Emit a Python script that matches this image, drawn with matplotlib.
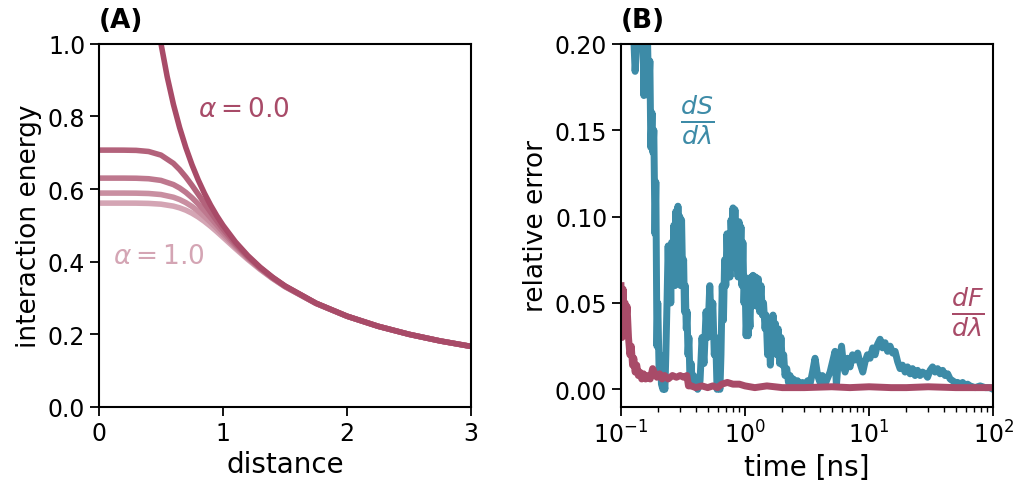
import numpy as np
import matplotlib
matplotlib.use("Agg")
import matplotlib.pyplot as plt

# ---- panel A data: interaction energy vs distance ----
dist = [0.0, 0.1, 0.2, 0.3, 0.4, 0.5, 0.6, 0.65, 0.7, 0.75, 0.8, 0.85, 0.9, 0.95,
        1.0, 1.1, 1.2, 1.3, 1.4, 1.5, 1.75, 2.0, 2.25, 2.5, 2.75, 3.0]
energy_a025 = [0.7071, 0.7071, 0.7070, 0.7064, 0.7033, 0.6934, 0.6707, 0.6536, 0.6331, 0.6101,
               0.5857, 0.5608, 0.5364, 0.5127, 0.4903, 0.4494, 0.4138, 0.3830, 0.3562, 0.3327,
               0.2855, 0.2499, 0.2222, 0.2000, 0.1818, 0.1667]
energy_a050 = [0.6300, 0.6300, 0.6300, 0.6297, 0.6283, 0.6237, 0.6123, 0.6029, 0.5908, 0.5760,
               0.5590, 0.5405, 0.5210, 0.5013, 0.4817, 0.4447, 0.4111, 0.3814, 0.3552, 0.3321,
               0.2853, 0.2498, 0.2222, 0.2000, 0.1818, 0.1667]
energy_a075 = [0.5888, 0.5888, 0.5888, 0.5886, 0.5877, 0.5848, 0.5774, 0.5711, 0.5626, 0.5519,
               0.5390, 0.5243, 0.5083, 0.4914, 0.4742, 0.4402, 0.4085, 0.3799, 0.3543, 0.3315,
               0.2851, 0.2498, 0.2222, 0.2000, 0.1818, 0.1667]
energy_a100 = [0.5612, 0.5612, 0.5612, 0.5611, 0.5604, 0.5583, 0.5529, 0.5482, 0.5418, 0.5334,
               0.5231, 0.5110, 0.4974, 0.4827, 0.4673, 0.4361, 0.4061, 0.3784, 0.3533, 0.3309,
               0.2849, 0.2497, 0.2222, 0.2000, 0.1818, 0.1667]
dist_a0 = [0.5, 0.55, 0.6, 0.65, 0.7, 0.75, 0.8, 0.85, 0.9, 0.95, 1.0, 1.1, 1.2, 1.3, 1.4,
           1.5, 1.75, 2.0, 2.25, 2.5, 2.75, 3.0]
energy_a000 = [1.0, 0.9091, 0.8333, 0.7692, 0.7143, 0.6667, 0.625, 0.5882, 0.5556, 0.5263,
               0.5, 0.4545, 0.4167, 0.3846, 0.3571, 0.3333, 0.2857, 0.25, 0.2222, 0.2,
               0.1818, 0.1667]

# ---- panel B data: relative error vs simulation time ----
t_dS = [0.100, 0.105, 0.110, 0.118, 0.125, 0.130, 0.134, 0.138, 0.145, 0.150, 0.153, 0.156,
        0.160, 0.163, 0.167, 0.171, 0.174, 0.178, 0.181, 0.184, 0.188, 0.191, 0.195, 0.198,
        0.203, 0.207, 0.212, 0.218, 0.222, 0.226, 0.230, 0.235, 0.240, 0.244, 0.248, 0.252,
        0.256, 0.262, 0.267, 0.272, 0.277, 0.282, 0.288, 0.293, 0.298, 0.303, 0.308, 0.314,
        0.320, 0.325, 0.330, 0.336, 0.341, 0.347, 0.353, 0.360, 0.368, 0.376, 0.385, 0.395,
        0.405, 0.415, 0.425, 0.434, 0.450, 0.467, 0.485, 0.500, 0.520, 0.535, 0.550, 0.565,
        0.580, 0.595, 0.610, 0.628, 0.640, 0.655, 0.670, 0.685, 0.700, 0.715, 0.730, 0.743,
        0.757, 0.771, 0.785, 0.800, 0.815, 0.830, 0.845, 0.860, 0.878, 0.895, 0.910, 0.928,
        0.945, 0.962, 0.981, 1.000, 1.020, 1.038, 1.060, 1.080, 1.097, 1.12, 1.14, 1.16,
        1.19, 1.22, 1.25, 1.28, 1.31, 1.346, 1.38, 1.41, 1.45, 1.48, 1.52, 1.56,
        1.60, 1.64, 1.682, 1.72, 1.76, 1.81, 1.85, 1.90, 1.95, 2.00, 2.05, 2.10,
        2.17, 2.24, 2.307, 2.38, 2.45, 2.531, 2.65, 2.777, 2.90, 3.047, 3.2, 3.344,
        3.5, 3.669, 3.85, 4.026, 4.2, 4.418, 4.6, 4.848, 5.08, 5.319, 5.45, 5.58,
        5.837, 6.0, 6.2, 6.405, 6.7, 7.028, 7.35, 7.712, 8.1, 8.462, 8.9, 9.285,
        9.7, 10.19, 10.7, 11.18, 11.7, 12.27, 12.85, 13.46, 14.1, 14.77, 15.5, 16.21,
        17.0, 17.78, 18.6, 19.51, 20.4, 21.41, 22.4, 23.49, 24.6, 25.78, 27.0, 28.29,
        29.6, 31.04, 32.5, 34.06, 35.7, 37.37, 39.2, 41.01, 43.0, 45.0, 47.1, 49.38,
        51.7, 54.18, 56.8, 59.46, 62.3, 65.24, 71.59, 78.56, 86.2, 94.59, 100.0]
err_dS = [0.26, 0.24, 0.27, 0.23, 0.215, 0.184, 0.20, 0.25, 0.24, 0.21, 0.17, 0.22,
          0.175, 0.21, 0.17, 0.19, 0.14, 0.16, 0.137, 0.15, 0.09, 0.12, 0.025, 0.05,
          0.01, 0.02, 0.003, 0.0, 0.004, 0.0, 0.02, 0.05, 0.083, 0.06, 0.08, 0.05,
          0.085, 0.07, 0.095, 0.06, 0.103, 0.075, 0.106, 0.08, 0.10, 0.06, 0.098, 0.065,
          0.075, 0.045, 0.06, 0.035, 0.045, 0.02, 0.03, 0.005, 0.015, 0.002, 0.008, 0.002,
          0.004, 0.0, 0.002, 0.005, 0.03, 0.015, 0.045, 0.03, 0.06, 0.035, 0.05, 0.02,
          0.03, 0.0, 0.005, 0.0, 0.02, 0.06, 0.04, 0.075, 0.06, 0.09, 0.07, 0.085,
          0.065, 0.098, 0.085, 0.105, 0.08, 0.104, 0.07, 0.09, 0.065, 0.097, 0.075, 0.094,
          0.06, 0.085, 0.05, 0.065, 0.031, 0.045, 0.031, 0.045, 0.036, 0.065, 0.048, 0.066,
          0.05, 0.065, 0.048, 0.064, 0.045, 0.06, 0.043, 0.05, 0.035, 0.043, 0.02, 0.035,
          0.014, 0.028, 0.043, 0.025, 0.038, 0.02, 0.035, 0.015, 0.03, 0.014, 0.02, 0.008,
          0.012, 0.004, 0.008, 0.003, 0.006, 0.002, 0.005, 0.001, 0.004, 0.002, 0.005, 0.003,
          0.01, 0.018, 0.008, 0.004, 0.008, 0.003, 0.006, 0.01, 0.016, 0.022, 0.002, 0.012,
          0.018, 0.025, 0.015, 0.01, 0.018, 0.013, 0.02, 0.017, 0.021, 0.015, 0.01, 0.016,
          0.02, 0.018, 0.024, 0.02, 0.026, 0.029, 0.024, 0.027, 0.022, 0.025, 0.021, 0.022,
          0.016, 0.012, 0.014, 0.01, 0.013, 0.009, 0.012, 0.008, 0.011, 0.008, 0.01, 0.009,
          0.007, 0.011, 0.013, 0.01, 0.012, 0.009, 0.011, 0.008, 0.009, 0.006, 0.005, 0.004,
          0.004, 0.003, 0.004, 0.002, 0.003, 0.002, 0.001, 0.002, 0.001, 0.001, 0.0]

t_dF = [0.100, 0.102, 0.104, 0.106, 0.108, 0.110, 0.112, 0.115, 0.118, 0.121, 0.124, 0.127,
        0.130, 0.134, 0.138, 0.142, 0.147, 0.152, 0.158, 0.165, 0.172, 0.180, 0.188, 0.195,
        0.205, 0.215, 0.225, 0.24, 0.26, 0.28, 0.30, 0.32, 0.34, 0.35, 0.37, 0.40,
        0.45, 0.50, 0.55, 0.60, 0.65, 0.72, 0.80, 0.90, 1.0, 1.2, 1.5, 2.0,
        3.0, 5.0, 7.0, 10.0, 15.0, 20.0, 30.0, 50.0, 70.0, 100.0]
err_dF = [0.06, 0.03, 0.058, 0.035, 0.05, 0.04, 0.048, 0.03, 0.02, 0.025, 0.014, 0.018,
          0.01, 0.014, 0.008, 0.01, 0.006, 0.009, 0.006, 0.008, 0.006, 0.012, 0.009, 0.007,
          0.009, 0.006, 0.008, 0.006, 0.008, 0.007, 0.008, 0.007, 0.008, 0.002, 0.002, 0.001,
          0.002, 0.001, 0.002, 0.001, 0.003, 0.004, 0.003, 0.003, 0.002, 0.001, 0.002, 0.001,
          0.001, 0.0015, 0.001, 0.0015, 0.001, 0.001, 0.0015, 0.001, 0.001, 0.001]

red = '#a84b68'
blue = '#3d8ba7'
shades = ['#d4a5b4', '#c98fa1', '#be788e', '#b3627b']  # alpha = 1.0, 0.75, 0.5, 0.25

plt.rcParams['axes.linewidth'] = 1.5
plt.rcParams['xtick.major.size'] = 6.3
plt.rcParams['ytick.major.size'] = 6.3
plt.rcParams['xtick.major.width'] = 1.3
plt.rcParams['ytick.major.width'] = 1.3
plt.rcParams['xtick.minor.size'] = 3.5
plt.rcParams['xtick.minor.width'] = 1.0
plt.rcParams['xtick.labelsize'] = 17
plt.rcParams['ytick.labelsize'] = 17

fig = plt.figure(figsize=(10.14, 4.85), dpi=100)
ax1 = fig.add_axes([0.0976, 0.1588, 0.367, 0.749])
ax2 = fig.add_axes([0.6124, 0.1588, 0.367, 0.749])

# panel A
for e, c in zip([energy_a100, energy_a075, energy_a050, energy_a025], shades):
    ax1.plot(dist, e, color=c, lw=4)
ax1.plot(dist_a0, energy_a000, color=red, lw=4)
ax1.set_xlim(0, 3)
ax1.set_ylim(0, 1)
ax1.set_xticks([0, 1, 2, 3])
ax1.set_xlabel('distance', fontsize=20)
ax1.set_ylabel('interaction energy', fontsize=19)
ax1.set_title('(A)', loc='left', fontweight='bold', fontsize=19, pad=12)
ax1.text(0.8, 0.82, r'$\alpha = 0.0$', color=red, fontsize=19, va='center')
ax1.text(0.11, 0.415, r'$\alpha = 1.0$', color=shades[0], fontsize=19, va='center')

# panel B
ax2.plot(t_dS, err_dS, color=blue, lw=5)
ax2.plot(t_dF, err_dF, color=red, lw=5)
ax2.set_xscale('log')
ax2.set_xlim(0.1, 100)
ax2.set_ylim(-0.0102, 0.2)
ax2.set_yticks([0.0, 0.05, 0.1, 0.15, 0.2])
ax2.set_xlabel('time [ns]', fontsize=20)
ax2.set_ylabel('relative error', fontsize=19)
ax2.set_title('(B)', loc='left', fontweight='bold', fontsize=19, pad=12)
ax2.text(0.41, 0.156, r'$\frac{dS}{d\lambda}$', color=blue, fontsize=26, ha='center', va='center')
ax2.text(62, 0.045, r'$\frac{dF}{d\lambda}$', color=red, fontsize=26, ha='center', va='center')

fig.savefig('out.png', dpi=100)
